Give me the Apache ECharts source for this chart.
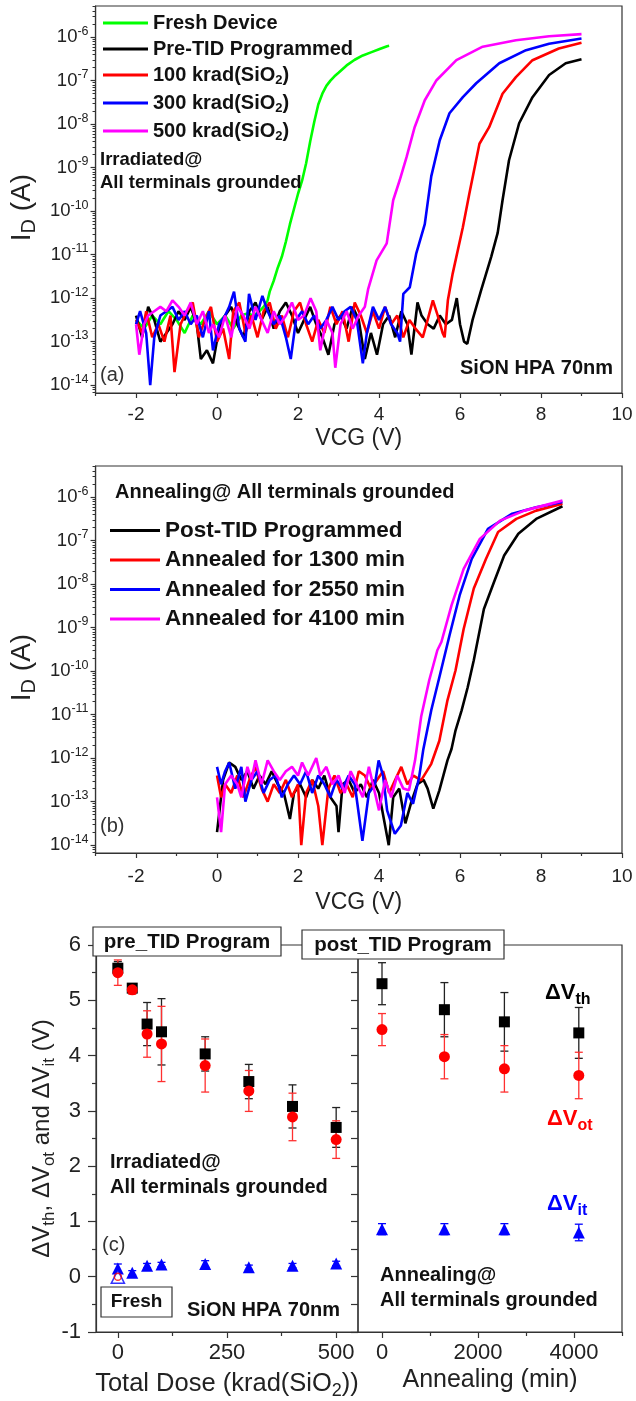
<!DOCTYPE html>
<html>
<head>
<meta charset="utf-8">
<script src="https://cdn.jsdelivr.net/npm/echarts@6/dist/echarts.min.js"></script>
<style>
html,body{margin:0;padding:0;background:#fff;}
#chart{width:636px;height:1401px;}
</style>
</head>
<body>
<div id="chart"></div>
<script>
// ---------------- DATA ----------------
// Panel (a): [VCG (V), log10(ID / A)]
const freshLogID = [[-2,-12.5],[-1.8,-12.7],[-1.6,-12.4],[-1.4,-12.6],[-1.2,-12.3],[-1.0,-12.5],[-0.8,-12.8],[-0.6,-12.4],[-0.4,-12.6],[-0.2,-12.3],[0.0,-12.6],[0.2,-12.4],[0.4,-12.7],[0.6,-12.4],[0.75,-12.35],[0.9,-12.4],[1.05,-12.3],[1.15,-12.2],[1.25,-12.05],[1.3,-11.85],[1.4,-11.6],[1.5,-11.3],[1.6,-11.05],[1.7,-10.7],[1.8,-10.3],[1.9,-9.95],[2.0,-9.6],[2.1,-9.3],[2.2,-8.9],[2.3,-8.4],[2.4,-7.95],[2.5,-7.55],[2.6,-7.3],[2.7,-7.12],[2.8,-7.0],[2.9,-6.9],[3.0,-6.82],[3.2,-6.65],[3.4,-6.52],[3.6,-6.42],[3.8,-6.35],[4.0,-6.28],[4.2,-6.21],[4.25,-6.2]];
const preTidLogID = [[-2,-12.4],[-1.85,-12.9],[-1.7,-12.2],[-1.55,-12.5],[-1.4,-13.0],[-1.25,-12.8],[-1.1,-12.6],[-0.95,-12.3],[-0.8,-12.5],[-0.65,-12.2],[-0.5,-12.6],[-0.4,-13.4],[-0.25,-13.2],[-0.1,-13.5],[0.05,-12.7],[0.2,-12.4],[0.35,-12.2],[0.5,-12.6],[0.65,-12.9],[0.8,-12.3],[0.95,-12.1],[1.1,-12.5],[1.25,-12.2],[1.4,-12.7],[1.55,-12.3],[1.7,-12.1],[1.85,-12.4],[2.0,-12.8],[2.15,-12.5],[2.3,-12.2],[2.45,-12.6],[2.6,-12.9],[2.75,-13.3],[2.9,-12.6],[3.05,-12.4],[3.2,-12.7],[3.35,-12.2],[3.5,-12.5],[3.65,-13.4],[3.8,-12.8],[3.95,-13.3],[4.1,-12.6],[4.25,-12.4],[4.4,-12.9],[4.55,-12.3],[4.7,-12.6],[4.8,-13.3],[4.95,-12.1],[5.05,-12.4],[5.2,-12.6],[5.35,-12.7],[5.5,-12.4],[5.65,-12.6],[5.8,-12.5],[5.92,-12.0],[6.0,-12.6],[6.1,-13.0],[6.18,-13.05],[6.31,-12.5],[6.52,-11.82],[6.77,-11.05],[6.93,-10.5],[7.05,-9.75],[7.21,-8.83],[7.46,-7.98],[7.79,-7.38],[8.2,-6.87],[8.61,-6.6],[9.0,-6.51]];
const krad100LogID = [[-2,-12.5],[-1.85,-12.8],[-1.75,-12.3],[-1.6,-12.9],[-1.45,-12.6],[-1.3,-13.0],[-1.15,-12.4],[-1.05,-13.7],[-0.9,-12.6],[-0.75,-12.3],[-0.6,-12.1],[-0.45,-12.9],[-0.3,-12.5],[-0.15,-12.2],[0.0,-13.0],[0.15,-12.7],[0.3,-13.4],[0.4,-12.3],[0.55,-12.1],[0.7,-12.8],[0.85,-12.4],[1.0,-12.9],[1.15,-12.3],[1.3,-12.1],[1.45,-12.7],[1.6,-12.4],[1.75,-12.9],[1.9,-12.3],[2.05,-12.1],[2.2,-12.6],[2.35,-13.0],[2.5,-12.5],[2.65,-12.8],[2.8,-12.2],[2.95,-12.6],[3.1,-12.3],[3.25,-13.0],[3.4,-12.1],[3.55,-12.4],[3.7,-12.8],[3.85,-12.3],[4.0,-12.7],[4.15,-12.2],[4.3,-12.6],[4.45,-12.4],[4.6,-12.9],[4.75,-12.5],[4.9,-12.7],[5.08,-12.9],[5.2,-12.5],[5.33,-12.05],[5.45,-12.4],[5.57,-12.8],[5.62,-12.9],[5.7,-12.05],[5.82,-11.43],[6.07,-10.37],[6.23,-9.6],[6.48,-8.45],[6.72,-8.07],[7.05,-7.3],[7.38,-6.92],[7.79,-6.53],[8.44,-6.26],[9.0,-6.13]];
const krad300LogID = [[-2,-12.6],[-1.9,-12.3],[-1.75,-12.8],[-1.65,-14.0],[-1.55,-12.9],[-1.4,-12.4],[-1.25,-12.3],[-1.1,-12.2],[-0.95,-12.5],[-0.8,-12.3],[-0.65,-12.6],[-0.5,-12.4],[-0.35,-12.9],[-0.2,-12.3],[-0.1,-13.2],[0.05,-12.6],[0.2,-12.4],[0.3,-12.2],[0.42,-11.85],[0.55,-12.7],[0.7,-13.0],[0.79,-11.9],[0.95,-12.5],[1.12,-11.95],[1.25,-12.3],[1.4,-12.6],[1.55,-12.4],[1.7,-12.9],[1.82,-13.4],[1.95,-12.5],[2.1,-12.3],[2.25,-12.6],[2.4,-12.4],[2.55,-12.7],[2.7,-12.5],[2.85,-12.2],[3.0,-12.5],[3.15,-12.3],[3.3,-12.2],[3.45,-12.5],[3.6,-13.5],[3.7,-12.8],[3.85,-12.2],[4.0,-12.5],[4.15,-12.2],[4.3,-12.6],[4.45,-12.8],[4.52,-13.0],[4.6,-11.9],[4.76,-11.75],[4.92,-10.97],[5.13,-10.3],[5.29,-9.2],[5.5,-8.37],[5.74,-7.75],[6.07,-7.38],[6.4,-7.06],[6.97,-6.6],[7.63,-6.3],[8.2,-6.15],[9.0,-6.03]];
const krad500LogID = [[-2,-12.6],[-1.92,-13.3],[-1.8,-12.6],[-1.7,-12.4],[-1.55,-12.3],[-1.4,-12.2],[-1.25,-12.3],[-1.1,-12.05],[-0.95,-12.2],[-0.8,-12.4],[-0.65,-12.1],[-0.5,-12.6],[-0.35,-12.3],[-0.2,-12.8],[-0.1,-12.6],[0.05,-12.9],[0.2,-12.4],[0.35,-12.9],[0.5,-12.2],[0.65,-12.4],[0.8,-12.7],[0.95,-12.2],[1.1,-12.5],[1.25,-12.8],[1.4,-12.3],[1.55,-12.6],[1.7,-12.4],[1.85,-12.1],[2.0,-12.5],[2.15,-12.4],[2.31,-12.0],[2.45,-12.3],[2.55,-13.2],[2.7,-12.5],[2.85,-12.8],[2.92,-13.6],[3.05,-12.6],[3.2,-12.3],[3.35,-12.7],[3.5,-12.4],[3.65,-12.2],[3.73,-11.8],[3.94,-11.13],[4.19,-10.74],[4.35,-9.75],[4.51,-9.29],[4.68,-8.76],[4.88,-8.07],[5.13,-7.45],[5.42,-6.99],[5.91,-6.53],[6.56,-6.22],[7.38,-6.07],[8.2,-5.98],[9.0,-5.93]];

// Panel (b): [VCG (V), log10(ID / A)]
const postTidLogID = [[0,-13.7],[0.05,-13.3],[0.15,-12.5],[0.3,-12.1],[0.45,-12.2],[0.6,-12.5],[0.75,-12.3],[0.9,-12.7],[1.05,-12.4],[1.2,-12.6],[1.35,-12.3],[1.5,-12.6],[1.65,-12.8],[1.8,-13.4],[1.9,-12.8],[2.05,-12.6],[2.2,-12.9],[2.35,-12.5],[2.5,-12.7],[2.65,-12.4],[2.8,-12.9],[2.95,-13.1],[3.0,-13.7],[3.1,-12.6],[3.25,-12.5],[3.4,-12.8],[3.55,-12.6],[3.7,-12.9],[3.85,-12.5],[4.0,-12.8],[4.1,-13.3],[4.24,-14.0],[4.35,-12.9],[4.5,-12.7],[4.65,-13.5],[4.8,-13.0],[4.95,-12.6],[5.1,-12.5],[5.2,-12.7],[5.34,-13.16],[5.49,-12.74],[5.69,-12.05],[5.79,-11.79],[5.89,-11.36],[6.04,-10.9],[6.19,-10.37],[6.34,-9.75],[6.59,-8.57],[6.84,-7.95],[7.09,-7.34],[7.44,-6.84],[7.88,-6.5],[8.53,-6.21]];
const anneal1300LogID = [[0,-12.4],[0.1,-12.9],[0.2,-12.6],[0.35,-12.8],[0.5,-12.4],[0.65,-12.9],[0.8,-12.5],[0.95,-12.2],[1.1,-12.7],[1.25,-13.0],[1.4,-12.6],[1.55,-12.8],[1.7,-12.5],[1.85,-12.9],[2.0,-12.6],[2.08,-14.0],[2.2,-12.8],[2.35,-12.5],[2.5,-13.1],[2.6,-14.0],[2.75,-12.7],[2.9,-12.4],[3.05,-12.8],[3.2,-12.6],[3.35,-12.9],[3.5,-12.3],[3.65,-12.4],[3.8,-12.7],[3.95,-12.5],[4.1,-12.3],[4.25,-12.8],[4.4,-12.5],[4.55,-12.2],[4.7,-12.6],[4.85,-12.4],[5.04,-12.51],[5.29,-12.13],[5.49,-11.6],[5.69,-10.67],[5.89,-9.98],[6.09,-9.03],[6.34,-8.1],[6.64,-7.42],[6.94,-6.8],[7.39,-6.5],[7.88,-6.31],[8.53,-6.15]];
const anneal2550LogID = [[0,-12.2],[0.1,-12.6],[0.2,-12.3],[0.3,-12.1],[0.45,-12.7],[0.6,-12.2],[0.7,-13.0],[0.85,-12.5],[1.0,-12.3],[1.15,-12.8],[1.3,-12.5],[1.45,-12.4],[1.6,-12.9],[1.75,-12.6],[1.9,-12.4],[2.05,-12.6],[2.2,-12.3],[2.35,-12.8],[2.5,-12.4],[2.65,-12.6],[2.8,-12.9],[2.95,-12.5],[3.1,-12.7],[3.25,-12.4],[3.4,-12.6],[3.59,-13.9],[3.75,-12.8],[3.9,-12.6],[3.99,-12.05],[4.1,-12.4],[4.2,-13.2],[4.39,-13.74],[4.54,-13.55],[4.7,-12.8],[4.84,-13.05],[4.99,-12.44],[5.09,-11.82],[5.29,-10.9],[5.49,-10.14],[5.74,-9.18],[5.99,-8.26],[6.29,-7.42],[6.69,-6.73],[7.29,-6.38],[7.88,-6.23],[8.53,-6.11]];
const anneal4100LogID = [[0,-12.9],[0.05,-13.3],[0.1,-13.7],[0.2,-12.6],[0.35,-12.4],[0.5,-12.6],[0.6,-12.9],[0.75,-12.2],[0.85,-12.5],[0.95,-12.05],[1.1,-12.6],[1.25,-12.05],[1.4,-12.3],[1.55,-12.5],[1.7,-12.3],[1.85,-12.2],[2.0,-12.4],[2.1,-12.1],[2.25,-12.4],[2.45,-12.0],[2.55,-12.4],[2.7,-12.2],[2.85,-12.6],[3.0,-12.4],[3.15,-12.8],[3.3,-12.3],[3.45,-12.6],[3.6,-12.9],[3.75,-12.2],[3.9,-12.8],[4.0,-13.2],[4.15,-12.5],[4.3,-12.9],[4.45,-12.4],[4.6,-12.7],[4.74,-12.74],[4.89,-12.05],[5.04,-11.05],[5.24,-10.21],[5.44,-9.52],[5.54,-9.33],[5.79,-8.49],[6.09,-7.65],[6.49,-6.96],[6.99,-6.54],[7.59,-6.31],[8.53,-6.08]];

// Panel (c) left: total dose
const doseKrad = [0, 33, 67, 100, 200, 300, 400, 500];
const dVthDose = [5.58, 5.22, 4.57, 4.43, 4.03, 3.53, 3.08, 2.70];
const dVthDoseErr = [0.12, 0.05, 0.39, 0.60, 0.31, 0.31, 0.39, 0.36];
const dVotDose = [5.50, 5.19, 4.39, 4.21, 3.82, 3.36, 2.89, 2.48];
const dVotDoseErr = [0.23, 0.08, 0.42, 0.68, 0.48, 0.37, 0.43, 0.34];
const dVitDose = [0.15, 0.07, 0.20, 0.22, 0.23, 0.17, 0.20, 0.24];
const dVitDoseErr = [0.08, 0.04, 0.04, 0.04, 0.06, 0.04, 0.04, 0.04];
const freshPoint = [0, 0];
// Panel (c) right: annealing
const annealMin = [0, 1300, 2550, 4100];
const dVthAnneal = [5.30, 4.83, 4.61, 4.41];
const dVthAnnealErr = [0.38, 0.49, 0.53, 0.46];
const dVotAnneal = [4.47, 3.98, 3.76, 3.64];
const dVotAnnealErr = [0.29, 0.40, 0.42, 0.42];
const dVitAnneal = [0.86, 0.86, 0.86, 0.80];
const dVitAnnealErr = [0.10, 0.10, 0.10, 0.15];

// Tick values / labels
const vcgTickLabels = [-2, 0, 2, 4, 6, 8, 10];
const vcgMinorTicks = [-3, -1, 1, 3, 5, 7, 9];
const idDecadeExponents = [-14, -13, -12, -11, -10, -9, -8, -7, -6];
const idMinorMultipliers = [2, 3, 4, 5, 6, 7, 8, 9];
const doseTickLabels = [0, 250, 500];
const doseMinorTicks = [125, 375];
const annealTickLabels = [0, 2000, 4000];
const annealMinorTicks = [1000, 3000, 5000];
const dvTickLabels = [-1, 0, 1, 2, 3, 4, 5, 6];
const dvMinorTicks = [-0.5, 0.5, 1.5, 2.5, 3.5, 4.5, 5.5];

// ---------------- CHART ----------------
const FONT = '"Liberation Sans", Arial, Helvetica, sans-serif';
const AX = '#333';
const idMin = 6.6e-15, idMax = 5.2e-6;
const idDecades = idDecadeExponents.map(e => Math.pow(10, e));
const idMinor = [];
[-15].concat(idDecadeExponents).forEach(e => idMinorMultipliers.forEach(m => idMinor.push(m * Math.pow(10, e))));

const toCurrent = arr => arr.map(p => [p[0], Math.pow(10, p[1])]);
const supFmt = v => '{b|10}{p|' + Math.round(Math.log10(v)) + '}';
const plainFmt = v => String(v);

function vcgAxes(gridIndex, nameGap, labelMargin) {
  return [{
    type: 'value', gridIndex, min: -3, max: 10, position: 'bottom',
    axisLine: { onZero: false, lineStyle: { color: AX, width: 1.2 } },
    axisTick: { customValues: vcgTickLabels, length: 5, lineStyle: { color: AX, width: 1.2 } },
    axisLabel: { customValues: vcgTickLabels, formatter: plainFmt, fontSize: 19, color: '#222', fontFamily: FONT, margin: labelMargin },
    splitLine: { show: false },
    name: 'VCG (V)', nameLocation: 'middle', nameGap,
    nameTextStyle: { fontSize: 23, color: '#222', fontFamily: FONT }
  }, {
    type: 'value', gridIndex, min: -3, max: 10, position: 'bottom',
    axisLine: { show: false, onZero: false },
    axisTick: { customValues: vcgMinorTicks, length: 3, lineStyle: { color: AX, width: 1.2 } },
    axisLabel: { show: false }, splitLine: { show: false }
  }];
}
function idAxes(gridIndex) {
  return [{
    type: 'log', logBase: 10, gridIndex, min: idMin, max: idMax, position: 'left',
    axisLine: { onZero: false, lineStyle: { color: AX, width: 1.2 } },
    axisTick: { customValues: idDecades, length: 5, lineStyle: { color: AX, width: 1.2 } },
    axisLabel: {
      customValues: idDecades, formatter: supFmt, margin: 7, color: '#222',
      rich: {
        b: { fontSize: 18.5, color: '#222', fontFamily: FONT },
        p: { fontSize: 12.5, color: '#222', fontFamily: FONT, padding: [0, 0, 12, 0] }
      }
    },
    splitLine: { show: false }, minorTick: { show: false },
    name: 'I{d|D} (A)', nameLocation: 'middle', nameGap: 48, nameRotate: 90,
    nameTextStyle: {
      fontSize: 28, color: '#222', fontFamily: FONT, padding: [0, 16, 0, 0],
      rich: { d: { fontSize: 20, color: '#222', fontFamily: FONT, padding: [14, 0, 0, 0] } }
    }
  }, {
    type: 'log', logBase: 10, gridIndex, min: idMin, max: idMax, position: 'left',
    axisLine: { show: false, onZero: false },
    axisTick: { customValues: idMinor, length: 3, lineStyle: { color: AX, width: 1 } },
    axisLabel: { show: false }, splitLine: { show: false }
  }];
}
function lineSeries(name, arr, color, xi, yi) {
  return {
    type: 'line', name, xAxisIndex: xi, yAxisIndex: yi, data: toCurrent(arr),
    showSymbol: false, symbol: 'none', smooth: false,
    lineStyle: { color, width: 2.6 }, itemStyle: { color }, clip: true
  };
}
function errorBarSeries(name, xs, ys, errs, color, xi, yi) {
  return {
    type: 'custom', name, xAxisIndex: xi, yAxisIndex: yi, silent: true, z: 3,
    data: xs.map((x, i) => [x, ys[i], errs[i]]),
    encode: { x: 0, y: 1 },
    renderItem: (params, api) => {
      const x = api.value(0), y = api.value(1), e = api.value(2);
      const top = api.coord([x, y + e]), bot = api.coord([x, y - e]);
      const hw = 4, st = { stroke: color, lineWidth: 1.3 };
      return { type: 'group', children: [
        { type: 'line', shape: { x1: top[0], y1: top[1], x2: bot[0], y2: bot[1] }, style: st },
        { type: 'line', shape: { x1: top[0] - hw, y1: top[1], x2: top[0] + hw, y2: top[1] }, style: st },
        { type: 'line', shape: { x1: bot[0] - hw, y1: bot[1], x2: bot[0] + hw, y2: bot[1] }, style: st }
      ] };
    }
  };
}
function scatterSeries(name, xs, ys, symbol, size, color, xi, yi) {
  return {
    type: 'scatter', name, xAxisIndex: xi, yAxisIndex: yi, symbol, symbolSize: size, z: 5,
    data: xs.map((x, i) => [x, ys[i]]), itemStyle: { color, opacity: 1 }
  };
}
function text(x, y, t, size, opts) {
  opts = opts || {};
  return {
    type: 'text', x, y, z: 120,
    style: Object.assign({
      text: t, fontSize: size, fontFamily: FONT, fontWeight: opts.weight || 'bold',
      fill: opts.fill || '#111', align: opts.align || 'left', verticalAlign: 'middle'
    }, opts.rich ? { rich: opts.rich } : {})
  };
}
function subRich(size, fill, pad) {
  return { s: { fontSize: size, fontWeight: 'bold', fontFamily: FONT, fill, padding: [pad, 0, 0, 0] } };
}

const grids = [
  { left: 93, top: 6, width: 529, height: 387 },
  { left: 93, top: 466, width: 529, height: 387 },
  { left: 96, top: 945, width: 262, height: 387 },
  { left: 358, top: 945, width: 264, height: 387 }
].map(g => Object.assign({ show: true, borderColor: AX, borderWidth: 1.2, backgroundColor: 'transparent' }, g));

const a = vcgAxes(0, 34, 12), b = vcgAxes(1, 38, 14);
const xAxes = [a[0], a[1], b[0], b[1],
  {
    type: 'value', gridIndex: 2, min: -50, max: 550, position: 'bottom',
    axisLine: { onZero: false, lineStyle: { color: AX, width: 1.2 } },
    axisTick: { customValues: doseTickLabels, length: 6, lineStyle: { color: AX, width: 1.2 } },
    axisLabel: { customValues: doseTickLabels, formatter: plainFmt, fontSize: 22, color: '#222', fontFamily: FONT, margin: 10 },
    splitLine: { show: false },
    name: 'Total Dose (krad(SiO{s|2}))', nameLocation: 'middle', nameGap: 36,
    nameTextStyle: { fontSize: 25.5, color: '#222', fontFamily: FONT,
      rich: { s: { fontSize: 18, color: '#222', fontFamily: FONT, padding: [14, 0, 0, 0] } } }
  },
  {
    type: 'value', gridIndex: 2, min: -50, max: 550, position: 'bottom',
    axisLine: { show: false, onZero: false },
    axisTick: { customValues: doseMinorTicks, length: 4, lineStyle: { color: AX, width: 1.2 } },
    axisLabel: { show: false }, splitLine: { show: false }
  },
  {
    type: 'value', gridIndex: 3, min: -500, max: 5000, position: 'bottom',
    axisLine: { onZero: false, lineStyle: { color: AX, width: 1.2 } },
    axisTick: { customValues: annealTickLabels, length: 6, lineStyle: { color: AX, width: 1.2 } },
    axisLabel: { customValues: annealTickLabels, formatter: plainFmt, fontSize: 22, color: '#222', fontFamily: FONT, margin: 10 },
    splitLine: { show: false },
    name: 'Annealing (min)', nameLocation: 'middle', nameGap: 36,
    nameTextStyle: { fontSize: 25, color: '#222', fontFamily: FONT }
  },
  {
    type: 'value', gridIndex: 3, min: -500, max: 5000, position: 'bottom',
    axisLine: { show: false, onZero: false },
    axisTick: { customValues: annealMinorTicks, length: 4, lineStyle: { color: AX, width: 1.2 } },
    axisLabel: { show: false }, splitLine: { show: false }
  }
];
const ya = idAxes(0), yb = idAxes(1);
const yAxes = [ya[0], ya[1], yb[0], yb[1],
  {
    type: 'value', gridIndex: 2, min: -1, max: 6, position: 'left',
    axisLine: { onZero: false, lineStyle: { color: AX, width: 1.2 } },
    axisTick: { customValues: dvTickLabels, length: 8, lineStyle: { color: AX, width: 1.2 } },
    axisLabel: { customValues: dvTickLabels, formatter: plainFmt, fontSize: 22, color: '#222', fontFamily: FONT, margin: 15 },
    splitLine: { show: false },
    name: 'ΔV{s|th}, ΔV{s|ot} and ΔV{s|it} (V)', nameLocation: 'middle', nameGap: 32, nameRotate: 90,
    nameTextStyle: { fontSize: 24, color: '#222', fontFamily: FONT,
      rich: { s: { fontSize: 17, color: '#222', fontFamily: FONT, padding: [14, 0, 0, 0] } } }
  },
  {
    type: 'value', gridIndex: 2, min: -1, max: 6, position: 'left',
    axisLine: { show: false, onZero: false },
    axisTick: { customValues: dvMinorTicks, length: 4, lineStyle: { color: AX, width: 1.2 } },
    axisLabel: { show: false }, splitLine: { show: false }
  },
  {
    type: 'value', gridIndex: 2, min: -1, max: 6, position: 'right',
    axisLine: { show: false, onZero: false },
    axisTick: { inside: true, customValues: dvTickLabels.concat(dvMinorTicks), length: 7, lineStyle: { color: AX, width: 1.2 } },
    axisLabel: { show: false }, splitLine: { show: false }
  },
  { type: 'value', gridIndex: 3, min: -1, max: 6, show: false, axisLine: { onZero: false }, splitLine: { show: false } }
];

const series = [
  lineSeries('Fresh Device', freshLogID, '#00ff00', 0, 0),
  lineSeries('Pre-TID Programmed', preTidLogID, '#000000', 0, 0),
  lineSeries('100 krad(SiO2)', krad100LogID, '#ff0000', 0, 0),
  lineSeries('300 krad(SiO2)', krad300LogID, '#0000ff', 0, 0),
  lineSeries('500 krad(SiO2)', krad500LogID, '#ff00ff', 0, 0),
  lineSeries('Post-TID Programmed', postTidLogID, '#000000', 2, 2),
  lineSeries('Annealed for 1300 min', anneal1300LogID, '#ff0000', 2, 2),
  lineSeries('Annealed for 2550 min', anneal2550LogID, '#0000ff', 2, 2),
  lineSeries('Annealed for 4100 min', anneal4100LogID, '#ff00ff', 2, 2),

  errorBarSeries('dVth err dose', doseKrad, dVthDose, dVthDoseErr, '#222', 4, 4),
  errorBarSeries('dVot err dose', doseKrad, dVotDose, dVotDoseErr, '#ff3030', 4, 4),
  errorBarSeries('dVit err dose', doseKrad, dVitDose, dVitDoseErr, '#0000ff', 4, 4),
  scatterSeries('ΔVth dose', doseKrad, dVthDose, 'rect', 11, '#000', 4, 4),
  scatterSeries('ΔVot dose', doseKrad, dVotDose, 'circle', 11, '#ff0000', 4, 4),
  scatterSeries('ΔVit dose', doseKrad, dVitDose, 'triangle', 12, '#0000ff', 4, 4),
  {
    type: 'scatter', name: 'Fresh ΔVit', xAxisIndex: 4, yAxisIndex: 4, symbol: 'triangle', symbolSize: 13, z: 6,
    data: [freshPoint], itemStyle: { color: '#fff', borderColor: '#0000ff', borderWidth: 1.6 }
  },
  {
    type: 'scatter', name: 'Fresh ΔVot', xAxisIndex: 4, yAxisIndex: 4, symbol: 'circle', symbolSize: 7, z: 7,
    data: [freshPoint], itemStyle: { color: 'transparent', borderColor: '#ff0000', borderWidth: 1.4 }
  },

  errorBarSeries('dVth err anneal', annealMin, dVthAnneal, dVthAnnealErr, '#222', 6, 7),
  errorBarSeries('dVot err anneal', annealMin, dVotAnneal, dVotAnnealErr, '#ff3030', 6, 7),
  errorBarSeries('dVit err anneal', annealMin, dVitAnneal, dVitAnnealErr, '#0000ff', 6, 7),
  scatterSeries('ΔVth anneal', annealMin, dVthAnneal, 'rect', 11, '#000', 6, 7),
  scatterSeries('ΔVot anneal', annealMin, dVotAnneal, 'circle', 11, '#ff0000', 6, 7),
  scatterSeries('ΔVit anneal', annealMin, dVitAnneal, 'triangle', 12, '#0000ff', 6, 7)
];

const legendSub = { s: { fontSize: 13, fontWeight: 'bold', fontFamily: FONT, color: '#111', padding: [11, 0, 0, 0] } };
const legends = [
  {
    data: ['Fresh Device', 'Pre-TID Programmed', '100 krad(SiO2)', '300 krad(SiO2)', '500 krad(SiO2)'],
    orient: 'vertical', left: 103, top: 13, padding: 0, itemGap: 6,
    itemWidth: 45, itemHeight: 3, icon: 'rect', selectedMode: false,
    formatter: n => n.replace('SiO2', 'SiO{s|2}'),
    textStyle: { fontSize: 20, fontWeight: 'bold', fontFamily: FONT, color: '#111', rich: legendSub }
  },
  {
    data: ['Post-TID Programmed', 'Annealed for 1300 min', 'Annealed for 2550 min', 'Annealed for 4100 min'],
    orient: 'vertical', left: 110, top: 519, padding: 0, itemGap: 6.5,
    itemWidth: 50, itemHeight: 3, icon: 'rect', selectedMode: false,
    textStyle: { fontSize: 22.5, fontWeight: 'bold', fontFamily: FONT, color: '#111' }
  }
];

const graphics = [
  // panel (a)
  text(100, 160, 'Irradiated@', 18.5),
  text(100, 183, 'All terminals grounded', 18.5),
  text(100, 375, '(a)', 20, { weight: 'normal', fill: '#333' }),
  text(613, 368, 'SiON HPA 70nm', 20, { align: 'right' }),
  // panel (b)
  text(115, 492, 'Annealing@ All terminals grounded', 20),
  text(100, 826, '(b)', 20, { weight: 'normal', fill: '#333' }),
  // panel (c)
  { type: 'rect', z: 110, shape: { x: 93, y: 927, width: 188, height: 29 }, style: { fill: '#fff', stroke: AX, lineWidth: 1.2 } },
  text(187, 942, 'pre_TID Program', 20.5, { align: 'center' }),
  { type: 'rect', z: 110, shape: { x: 302, y: 930, width: 202, height: 29 }, style: { fill: '#fff', stroke: AX, lineWidth: 1.2 } },
  text(403, 945, 'post_TID Program', 20.5, { align: 'center' }),
  text(110, 1162, 'Irradiated@', 20),
  text(110, 1187, 'All terminals grounded', 20),
  text(102, 1245, '(c)', 20, { weight: 'normal', fill: '#333' }),
  { type: 'rect', z: 110, shape: { x: 101, y: 1287, width: 71, height: 30 }, style: { fill: '#fff', stroke: AX, lineWidth: 1.2 } },
  text(136.5, 1302, 'Fresh', 19, { align: 'center' }),
  text(187, 1310, 'SiON HPA 70nm', 20),
  text(545, 993, 'ΔV{s|th}', 22, { fill: '#000', rich: subRich(16, '#000', 14) }),
  text(547, 1119, 'ΔV{s|ot}', 22, { fill: '#ff0000', rich: subRich(16, '#ff0000', 14) }),
  text(547, 1204, 'ΔV{s|it}', 22, { fill: '#0000ff', rich: subRich(16, '#0000ff', 14) }),
  text(380, 1275, 'Annealing@', 20),
  text(380, 1300, 'All terminals grounded', 20)
];

const chart = echarts.init(document.getElementById('chart'), null, { renderer: 'canvas' });
chart.setOption({
  animation: false,
  backgroundColor: '#ffffff',
  textStyle: { fontFamily: FONT },
  grid: grids,
  xAxis: xAxes,
  yAxis: yAxes,
  legend: legends,
  series,
  graphic: graphics
});
</script>
</body>
</html>
